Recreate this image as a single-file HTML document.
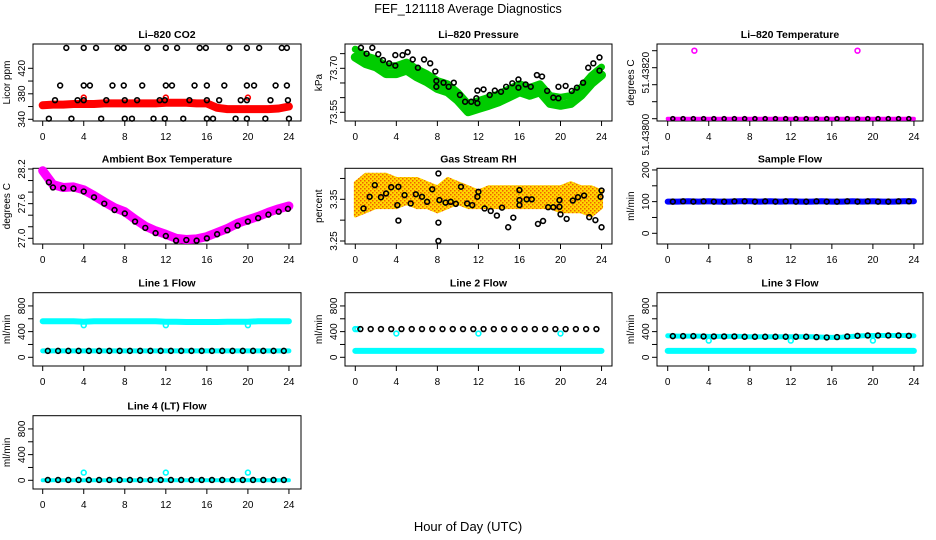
<!DOCTYPE html>
<html><head><meta charset="utf-8"><style>
body{margin:0;background:#fff}
svg{display:block;font-family:"Liberation Sans",sans-serif}
</style></head><body>
<svg id="c" width="936" height="540" viewBox="0 0 936 540">
<text x="468" y="13" font-size="12.5" text-anchor="middle">FEF_121118  Average Diagnostics</text>
<text x="468" y="531" font-size="13" text-anchor="middle">Hour of Day (UTC)</text>
</svg>
<script>
// ---- data ----
const hourTicks=[0,4,8,12,16,20,24];
const hours=[0,1,2,3,4,5,6,7,8,9,10,11,12,13,14,15,16,17,18,19,20,21,22,23,24];
const co2Band=[362,363,363,364,364,364,365,365,365,365,365,365,366,366,366,365,365,358,356,356,356,356,356,357,360];
const co2TopX=[2.3,4.0,5.2,7.3,7.9,10.2,12.0,13.1,15.3,15.9,18.2,19.9,21.1,23.3,23.8];
const co2HiX=[1.7,4.0,4.6,6.8,7.9,9.7,12.0,12.6,14.8,16.0,17.7,19.9,20.6,22.7,23.8];
const co2MidX=[1.2,3.4,4.0,6.2,8.0,9.2,11.4,11.9,14.3,16.0,17.2,19.3,19.9,22.2,23.9];
const co2LowX=[0.6,2.8,5.7,8.0,8.7,10.8,11.9,13.7,16.0,16.6,18.8,19.9,21.7,24.0];
const co2Levels=[452,393,370,341];
const presBand=[73.75,73.728,73.717,73.694,73.694,73.706,73.683,73.666,73.643,73.632,73.603,73.564,73.575,73.586,73.598,73.615,73.632,73.620,73.632,73.592,73.586,73.592,73.620,73.66,73.689];
const presX=[0.55,1.66,1.1,2.24,2.7,3.3,3.9,3.9,4.6,5.1,5.6,6.1,6.7,7.3,7.8,7.9,7.9,8.6,9.1,9.6,10.2,10.7,11.3,11.8,11.9,11.9,12.5,13.1,13.6,14.2,14.7,15.3,15.9,15.9,16.6,17.1,17.7,18.2,18.7,19.3,19.8,19.8,20.5,21.1,21.6,22.2,22.7,23.2,23.8,23.8];
const presY=[73.77,73.77,73.75,73.748,73.728,73.717,73.745,73.709,73.745,73.755,73.73,73.702,73.73,73.717,73.689,73.657,73.637,73.651,73.637,73.651,73.609,73.586,73.586,73.598,73.581,73.624,73.628,73.609,73.624,73.62,73.637,73.649,73.662,73.634,73.645,73.637,73.677,73.672,73.623,73.6,73.637,73.598,73.64,73.623,73.634,73.651,73.702,73.717,73.737,73.692];
const tempOutX=[2.6,18.5];
const tempOutY=[51.4382,51.4382];
const tempBase=51.438;
const ambBand=[28.17,27.93,27.88,27.89,27.84,27.74,27.63,27.53,27.46,27.33,27.21,27.13,27.07,27.0,26.98,26.99,27.03,27.10,27.17,27.26,27.32,27.38,27.45,27.51,27.56];
const ambX=[0.6,1,2,3,4,5,6,7,8,9,10,11,12,13,14,15,16,17,18,19,20,21,22,23,23.9];
const ambY=[27.97,27.88,27.87,27.86,27.81,27.71,27.6,27.49,27.43,27.29,27.18,27.09,27.04,26.96,26.97,26.96,27.0,27.07,27.14,27.22,27.29,27.35,27.41,27.46,27.51];
const rhUpper=[3.39,3.41,3.41,3.41,3.40,3.40,3.40,3.39,3.38,3.40,3.39,3.38,3.37,3.38,3.38,3.38,3.38,3.38,3.38,3.38,3.38,3.39,3.38,3.38,3.37];
const rhLower=[3.31,3.32,3.33,3.33,3.33,3.34,3.33,3.33,3.32,3.33,3.34,3.33,3.33,3.33,3.33,3.33,3.33,3.33,3.33,3.33,3.32,3.32,3.32,3.31,3.33];
const rhX=[0.8,1.4,1.9,2.5,3.0,3.5,4.1,4.2,4.2,4.8,5.4,5.9,6.5,7.0,7.5,8.1,8.2,8.1,8.1,8.8,9.3,9.8,10.3,10.9,11.4,11.9,12.0,12.6,13.2,13.8,14.3,14.9,15.4,16.0,16.0,16.0,16.7,17.2,17.8,18.3,18.8,19.3,19.9,19.9,20.0,20.6,21.2,21.7,22.3,22.8,23.4,23.9,24.0,24.0];
const rhY=[3.328,3.356,3.384,3.355,3.364,3.379,3.336,3.38,3.299,3.36,3.34,3.362,3.356,3.344,3.374,3.412,3.348,3.294,3.25,3.342,3.344,3.339,3.38,3.34,3.336,3.356,3.368,3.328,3.322,3.311,3.33,3.283,3.306,3.336,3.348,3.372,3.35,3.35,3.291,3.298,3.331,3.331,3.332,3.348,3.314,3.303,3.347,3.355,3.359,3.307,3.3,3.356,3.371,3.283];
const sampleFlow=[100,100,101,100,101,100,100,101,101,100,101,100,101,100,100,101,100,100,101,100,101,100,100,101,101];
const line1Cyan=[560,560,560,560,555,560,560,560,560,560,560,560,555,555,550,550,550,550,555,555,555,560,560,560,560];
const line1Black=[100,100,100,100,100,100,100,100,100,100,100,100,100,100,100,100,100,100,100,100,100,100,100,100,100];
const line2Cyan=[100,100,100,100,100,100,100,100,100,100,100,100,100,100,100,100,100,100,100,100,100,100,100,100,100];
const line2Black=[440,440,440,440,440,440,440,440,440,440,440,440,440,440,440,440,440,440,440,440,440,440,440,440,440];
const line3Cyan=[100,100,100,100,100,100,100,100,100,100,100,100,100,100,100,100,100,100,100,100,100,100,100,100,100];
const line3Black=[335,330,330,330,325,325,325,325,320,320,320,320,320,320,320,315,310,315,325,335,340,340,340,340,335];
const line4Cyan=[0,0,0,0,0,0,0,0,0,0,0,0,0,0,0,0,0,0,0,0,0,0,0,0,0];
const line4Black=[5,5,5,5,5,5,5,5,5,5,5,5,5,5,5,5,5,5,5,5,5,5,5,5,5];
const outX=[4,12,20];
const line1Dip=[500,500,500];
const line2Dip=[370,370,370];
const line3Dip=[260,260,260];
const line4Out=[120,120,120];

// ---- drawing ----
const svg=document.getElementById('c');
const NS='http://www.w3.org/2000/svg';
function el(tag,at,parent){const e=document.createElementNS(NS,tag);for(const k in at)e.setAttribute(k,at[k]);(parent||svg).appendChild(e);return e;}
const cols=[{l:33,r:301,x0:42.7},{l:345,r:612,x0:355.3},{l:657,r:923,x0:667.7}];
const rows=[{t:44,b:121},{t:168.3,b:244},{t:292.7,b:366},{t:415.7,b:489}];
const PXH=10.26;
function panel(name,title,ytitle,c,r,v0,y0,scale,ticks,labels,labelShift){
  const C=cols[c],R=rows[r];
  const g=el('g',{});
  
  
  const X=h=>C.x0+h*PXH;
  const Y=v=>y0-(v-v0)*scale;
  const t=el('text',{x:(C.l+C.r)/2,y:R.t-6,'font-size':10.5,'font-weight':'bold','text-anchor':'middle'},g);
  t.textContent=title;
  
  
  const yt=el('text',{transform:`translate(${C.l-23},${(R.t+R.b)/2}) rotate(-90)`,'font-size':10,'text-anchor':'middle'},g);
  yt.textContent=ytitle;
  
  
  el('rect',{x:C.l,y:R.t,width:C.r-C.l,height:R.b-R.t,fill:'none',stroke:'#000','stroke-width':1},g);
  const plot=el('g',{},g);
  hourTicks.forEach(h=>{
    el('line',{x1:X(h),x2:X(h),y1:R.b,y2:R.b+5,stroke:'#000'},g);
    const tx=el('text',{x:X(h),y:R.b+19,'font-size':10,'text-anchor':'middle'},g);
    tx.textContent=h;
    
    
  });
  ticks.forEach((v,i)=>{
    el('line',{x1:C.l,x2:C.l-5,y1:Y(v),y2:Y(v),stroke:'#000'},g);
    if(labels[i]){
      const sh=labelShift?labelShift[i]:0;
      const ty=el('text',{transform:`translate(${C.l-8},${Y(v)+sh}) rotate(-90)`,'font-size':10,'text-anchor':'middle'},g);
      ty.textContent=labels[i];
      
      
    }
  });
  return {X,Y,plot};
}
function band(p,xs,ys,color,w,name){
  const d=xs.map((h,i)=>(i?'L':'M')+p.X(h).toFixed(1)+','+p.Y(ys[i]).toFixed(1)).join('');
  const e=el('path',{d,fill:'none',stroke:color,'stroke-width':w,'stroke-linejoin':'round','stroke-linecap':'round'},p.plot);
  
  
}
function pts(p,xs,ys,color,name,r){
  xs.forEach((h,i)=>{
    const e=el('circle',{cx:p.X(h),cy:p.Y(ys[i]),r:r||2.4,fill:'none',stroke:color,'stroke-width':1.6},p.plot);
    
    
  });
}
const halfHours=hours.slice(0,24).map(h=>h+0.5);
function at(arr,h){return arr[Math.min(24,Math.round(h))];}

// CO2
let p=panel('co2-panel','Li\u2013820 CO2','Licor ppm',0,0,340,119.3,0.6375,[340,360,380,400,420],['340','','380','','420']);
band(p,hours,co2Band,'#f00',8,'co2-series');
pts(p,outX,[374,374,374],'#f00','co2-outlier');
[co2TopX,co2HiX,co2MidX,co2LowX].forEach((xs,k)=>pts(p,xs,xs.map(()=>co2Levels[k]),'#000','co2-average-point'));
// Pressure
p=panel('pressure-panel','Li\u2013820 Pressure','kPa',1,0,73.55,112.3,293.3,[73.55,73.60,73.65,73.70,73.75],['73.55','','','73.70','']);
band(p,hours,presBand.map(v=>v+0.015),'#0c0',7,'pressure-series-upper');
band(p,hours,presBand.map(v=>v-0.012),'#0c0',9,'pressure-series-lower');
pts(p,presX,presY,'#000','pressure-average-point');
// Li-820 temperature
p=panel('li820-temp-panel','Li\u2013820 Temperature','degrees C',2,0,51.438,118.7,340000,[51.438,51.43805,51.4381,51.43815,51.4382],['51.43800','','','','51.43820'],[16,0,0,0,22]);
band(p,hours,hours.map(()=>tempBase),'#f0f',4,'li820-temp-series');
pts(p,tempOutX,tempOutY,'#f0f','li820-temp-outlier');
pts(p,halfHours,halfHours.map(()=>tempBase),'#000','li820-temp-average-point',2);
// Ambient
p=panel('ambient-temp-panel','Ambient Box Temperature','degrees C',0,1,27.0,238.3,57.75,[27.0,27.2,27.4,27.6,27.8,28.0,28.2],['27.0','','','27.6','','','28.2']);
band(p,hours,ambBand,'#f0f',9,'ambient-temp-series');
pts(p,ambX,ambY,'#000','ambient-temp-average-point');
// RH
p=panel('rh-panel','Gas Stream RH','percent',1,1,3.25,241,417,[3.25,3.30,3.35,3.40],['3.25','','3.35','']);
{
  const defs=el('defs',{});
  const pat=el('pattern',{id:'rhpat',width:4,height:4,patternUnits:'userSpaceOnUse'},defs);
  el('rect',{width:4,height:4,fill:'#ffd800'},pat);
  el('rect',{width:1.5,height:1.5,fill:'#f06000'},pat);
  el('rect',{x:2,y:2,width:1.5,height:1.5,fill:'#f06000'},pat);
  const d=hours.map((h,i)=>(i?'L':'M')+p.X(h)+','+p.Y(rhUpper[i])).join('')+hours.slice().reverse().map(h=>'L'+p.X(h)+','+p.Y(rhLower[h])).join('')+'Z';
  const e=el('path',{d,fill:'url(#rhpat)',stroke:'url(#rhpat)','stroke-width':3,'stroke-linejoin':'round'},p.plot);
  
  
}
pts(p,rhX,rhY,'#000','rh-average-point');
// Sample flow
p=panel('sample-flow-panel','Sample Flow','ml/min',2,1,0,233.3,0.3167,[0,50,100,150,200],['0','','100','','200']);
band(p,hours,sampleFlow,'#00f',6,'sample-flow-series');
pts(p,halfHours,halfHours.map(h=>at(sampleFlow,h)),'#000','sample-flow-average-point');
// Line flows
const fT=[0,200,400,600,800],fL=['0','','400','','800'];
p=panel('line1-panel','Line 1 Flow','ml/min',0,2,0,357.3,0.0642,fT,fL);
band(p,hours,line1Cyan,'#0ff',6,'line1-flow-series');
pts(p,outX,line1Dip,'#0ff','line1-outlier');
band(p,hours,line1Black,'#0ff',5,'line1-secondary-series');
pts(p,halfHours,halfHours.map(h=>at(line1Black,h)),'#000','line1-average-point');
p=panel('line2-panel','Line 2 Flow','ml/min',1,2,0,357.3,0.0642,fT,fL);
band(p,hours,line2Cyan,'#0ff',6,'line2-flow-series');
pts(p,[0,0.2],[440,440],'#0ff','line2-outlier');
pts(p,outX,line2Dip,'#0ff','line2-outlier');
pts(p,halfHours,halfHours.map(h=>at(line2Black,h)),'#000','line2-average-point');
p=panel('line3-panel','Line 3 Flow','ml/min',2,2,0,357.3,0.0642,fT,fL);
band(p,hours,line3Cyan,'#0ff',6,'line3-flow-series');
band(p,hours,line3Black,'#0ff',5,'line3-secondary-series');
pts(p,outX,line3Dip,'#0ff','line3-outlier');
pts(p,halfHours,halfHours.map(h=>at(line3Black,h)),'#000','line3-average-point');
p=panel('line4-panel','Line 4 (LT) Flow','ml/min',0,3,0,480.3,0.0642,fT,fL);
band(p,hours,line4Cyan,'#0ff',4,'line4-flow-series');
pts(p,outX,line4Out,'#0ff','line4-outlier');
pts(p,halfHours,halfHours.map(h=>at(line4Black,h)),'#000','line4-average-point');
</script>
</body></html>
